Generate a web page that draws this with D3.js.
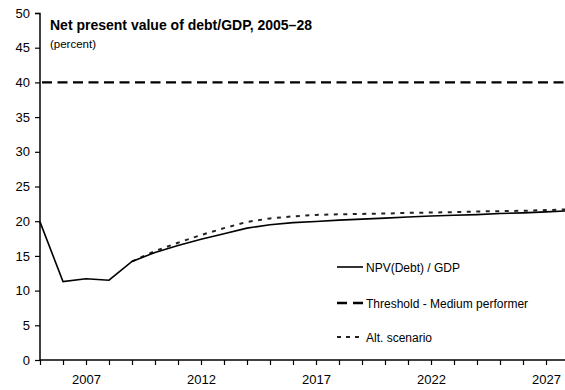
<!DOCTYPE html>
<html>
<head>
<meta charset="utf-8">
<script src="https://cdn.jsdelivr.net/npm/d3@7"></script>
<style>
  html, body { margin: 0; padding: 0; background: #fff; }
  svg { display: block; font-family: "Liberation Sans", Arial, sans-serif; }
</style>
</head>
<body>
<svg id="chart" width="565" height="390"></svg>
<script>
const years = d3.range(2005, 2029);
const npvDebtGdp = [19.9, 11.3, 11.7, 11.5, 14.2, 15.5, 16.5, 17.4, 18.2, 19.0, 19.5, 19.8, 19.95, 20.15, 20.3, 20.45, 20.6, 20.75, 20.85, 20.95, 21.1, 21.2, 21.35, 21.5];
const altYears = d3.range(2009, 2029);
const altScenario = [14.2, 15.7, 16.9, 18.0, 19.0, 19.9, 20.4, 20.7, 20.9, 21.0, 21.05, 21.1, 21.2, 21.25, 21.3, 21.4, 21.45, 21.5, 21.6, 21.7];
const threshold = 40;
const yTicks = [0, 5, 10, 15, 20, 25, 30, 35, 40, 45, 50];
const xLabels = [2007, 2012, 2017, 2022, 2027];
const titleText = "Net present value of debt/GDP, 2005\u201328";
const subtitleText = "(percent)";
const legendLabels = ["NPV(Debt) / GDP", "Threshold - Medium performer", "Alt. scenario"];

const svg = d3.select("#chart");
const x = d3.scaleLinear().domain([2005, 2028]).range([40, 569]);
const y = d3.scaleLinear().domain([0, 50]).range([360, 13]);
const FONT = "Liberation Sans, Arial, sans-serif";

// Axes
const yAxis = d3.axisLeft(y).tickValues(yTicks).tickSize(5).tickPadding(5).tickFormat(d3.format("d"));
const gy = svg.append("g").attr("transform", "translate(40,0)").call(yAxis);
gy.select(".domain").attr("stroke", "#000").attr("stroke-width", 1.5).attr("d", "M-5,13.5H0V360");
gy.selectAll(".tick line").attr("stroke", "#000").attr("stroke-width", 1.2);
gy.selectAll(".tick text").attr("font-size", 13).attr("fill", "#000").attr("font-family", FONT);

const xAxis = d3.axisBottom(x).tickValues(years).tickSize(5).tickPadding(10)
  .tickFormat(d => xLabels.includes(d) ? String(d) : "");
const gx = svg.append("g").attr("transform", "translate(0,360)").call(xAxis);
gx.select(".domain").attr("stroke", "#000").attr("stroke-width", 1.5).attr("d", "M40,0H569");
gx.selectAll(".tick line").attr("stroke", "#000").attr("stroke-width", 1.2);
gx.selectAll(".tick text").attr("font-size", 13).attr("fill", "#000").attr("font-family", FONT);

// Lines
const line = d3.line().x(d => x(d[0])).y(d => y(d[1]));

svg.append("path")
  .datum(years.map(yr => [yr, threshold]))
  .attr("d", line).attr("fill", "none").attr("stroke", "#000")
  .attr("stroke-width", 2.3).attr("stroke-dasharray", "10,5.5")
  .attr("stroke-dashoffset", -2);

svg.append("path")
  .datum(altYears.map((yr, i) => [yr, altScenario[i]]))
  .attr("d", line).attr("fill", "none").attr("stroke", "#222")
  .attr("stroke-width", 2).attr("stroke-dasharray", "4,5.5");

svg.append("path")
  .datum(years.map((yr, i) => [yr, npvDebtGdp[i]]))
  .attr("d", line).attr("fill", "none").attr("stroke", "#000")
  .attr("stroke-width", 1.6);

// Title
svg.append("text").attr("x", 50).attr("y", 29.5).attr("font-size", 14)
  .attr("font-weight", "bold").attr("fill", "#000").text(titleText);
svg.append("text").attr("x", 50).attr("y", 47.5).attr("font-size", 11.5)
  .attr("fill", "#000").text(subtitleText);

// Legend
const legendY = [267, 303, 337];
const legendStyles = [
  { dash: null, width: 1.6, color: "#000" },
  { dash: "10,6", width: 2.3, color: "#000" },
  { dash: "4,5", width: 2, color: "#222" }
];
legendLabels.forEach((lab, i) => {
  const st = legendStyles[i];
  const l = svg.append("line").attr("x1", 337).attr("x2", 363)
    .attr("y1", legendY[i]).attr("y2", legendY[i])
    .attr("stroke", st.color).attr("stroke-width", st.width);
  if (st.dash) l.attr("stroke-dasharray", st.dash);
  svg.append("text").attr("x", 366).attr("y", legendY[i] + 4.5)
    .attr("font-size", 12).attr("fill", "#000").text(lab);
});
</script>
</body>
</html>
